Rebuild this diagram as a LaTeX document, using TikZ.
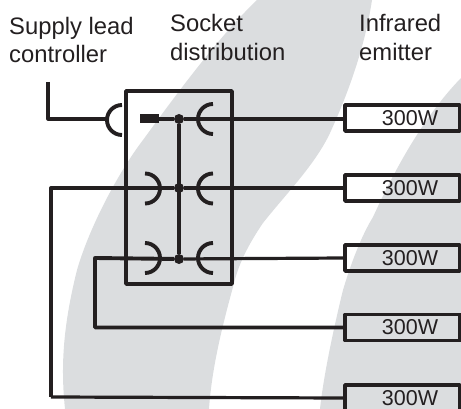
\documentclass[tikz,border=0pt]{standalone}
\usepackage{fontspec}
\setmainfont{Liberation Sans}
\definecolor{swoosh}{RGB}{219,221,223}
\definecolor{wire}{RGB}{35,31,32}
\tikzset{
  wirethick/.style={line width=3.9pt,color=wire,line join=round},
  wirethin/.style={line width=3.2pt,color=wire,line join=round},
  emitter/.style={draw=wire,line width=3.4pt,line join=round,minimum width=115pt,minimum height=26pt,inner sep=0pt,
    font=\fontsize{21.5pt}{24pt}\selectfont,text=wire},
  heading/.style={align=left,anchor=north west,inner sep=0pt,text=wire,
    font=\fontsize{23.8pt}{28.5pt}\selectfont},
  junction/.style={circle,fill=wire,inner sep=0pt,minimum size=10pt},
}
\begin{document}
\begin{tikzpicture}[x=1pt,y=-1pt]
  \useasboundingbox (0,0) rectangle (461,409);
  % background bands
  \fill[swoosh] (257,0) -- (372,0) .. controls (366,40) and (352,85) .. (330,133)
    .. controls (315,165) and (285,195) .. (263,223) .. controls (248,245) and (238,265) .. (233,287)
    .. controls (224,320) and (212,365) .. (209,409) -- (65,409)
    .. controls (61,370) and (62,330) .. (77,270) .. controls (90,225) and (120,170) .. (143,140)
    .. controls (165,110) and (215,40) .. cycle;
  \fill[swoosh] (461,78) -- (461,409) -- (320,409) .. controls (323,380) and (332,335) .. (343,290)
    .. controls (352,260) and (362,235) .. (373,217) .. controls (390,180) and (420,120) .. cycle;
  % labels
  \node[heading] (leadlabel) at (9,17) {Supply lead\\controller};
  \node[heading] (socketlabel) at (170,14.5) {Socket\\distribution};
  \node[heading] (emitterlabel) at (359,14.5) {Infrared\\emitter};
  % socket box
  \node[draw=wire,line width=3.4pt,line join=round,minimum width=106pt,minimum height=193pt,inner sep=0pt] (distbox) at (179,187.5) {};
  % emitters
  \foreach \name/\ypos in {one/118,two/188,three/258,four/327.5,five/398}
    \node[emitter] (\name) at (402.5,\ypos) {\hspace*{15pt}300W};
  % junctions
  \node[junction] (jone) at (179,119) {};
  \node[junction] (jtwo) at (179,188) {};
  \node[junction] (jthree) at (179,259) {};
  \draw[wirethin] (jone) -- (jthree);
  % lead and plug
  \coordinate (leadtop) at (48,82);
  \coordinate (leadplug) at (107,119);
  \draw[wirethin] (leadtop) |- (leadplug);
  \draw[wirethick] (122,105) arc (270:90:15);
  \fill[wire] (140,114) rectangle (159,123);
  % wires
  \draw[wirethick] (150,119) -- (jone) -- (jone -| one.west);
  \draw[wirethick] (jtwo) -- (51,188) -- (51,397);
  \draw[wirethin] (51,397) -- (five.west);
  \draw[wirethick] (jtwo) -- (jtwo -| two.west);
  \draw[wirethick] (four.west) -- (95,327.5) -- (95,258) -- (jthree);
  \draw[wirethin] (jthree) -- (three.west);
  % sockets
  \foreach \ypos in {119,188.5,258}
    \draw[wirethick] (213,\ypos-15) arc (270:90:15);
  \foreach \ypos in {188.5,258}
    \draw[wirethick] (145,\ypos-15) arc (-90:90:15);
\end{tikzpicture}
\end{document}
